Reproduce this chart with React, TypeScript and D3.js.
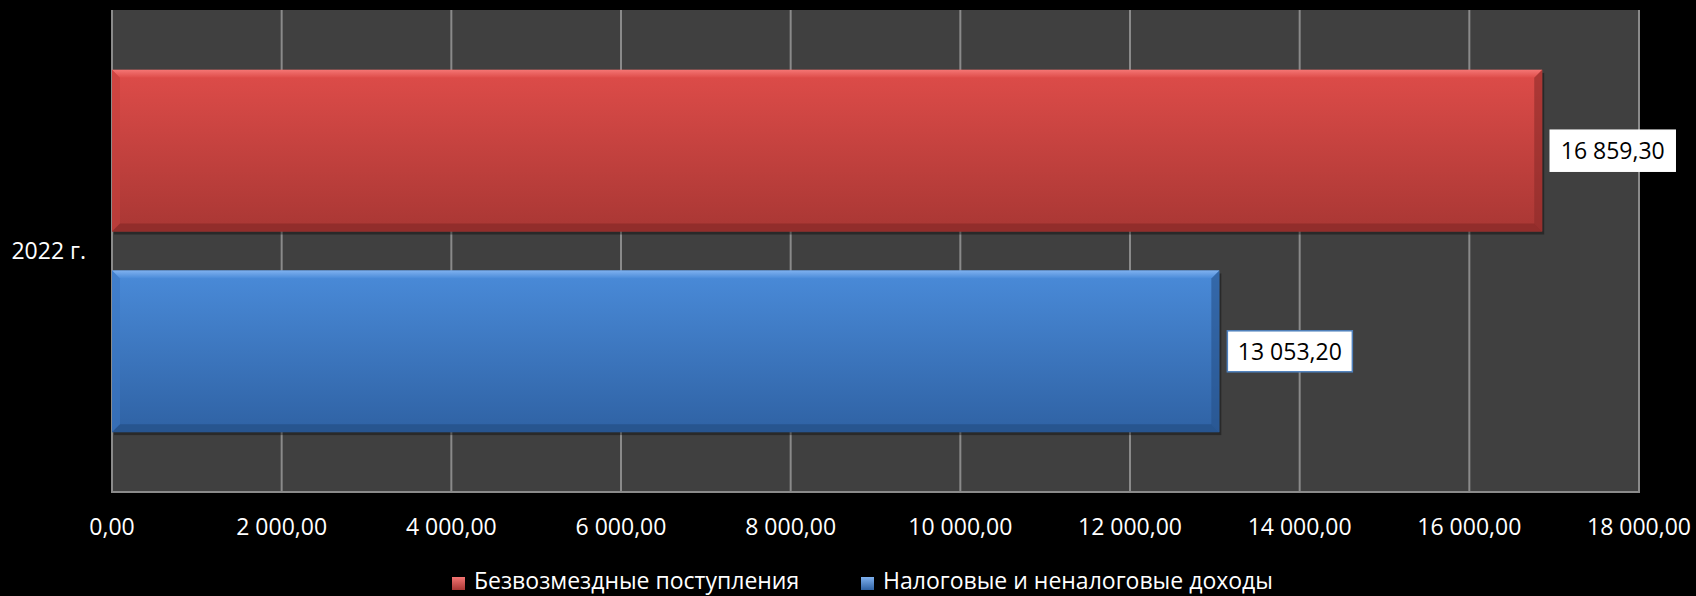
import React from "react";
import * as d3 from "d3";

const categories = ["2022 г."];
const seriesNames = ["Безвозмездные поступления", "Налоговые и неналоговые доходы"];
const grantsValues = [16859.3];
const taxValues = [13053.2];
const tickValues = [0, 2000, 4000, 6000, 8000, 10000, 12000, 14000, 16000, 18000];

const W = 1696;
const H = 596;
const plot = { left: 112, right: 1639, top: 10, bottom: 492 };
const FONT = "'Open Sans', 'DejaVu Sans', sans-serif";
const FS = 23;

const locale = d3.formatLocale({ decimal: ",", thousands: "\u00a0", grouping: [3], currency: ["", ""] });
const fmt = locale.format(",.2f");

const palette = [
  { top: "#de4c49", bottom: "#a93734", hi: "#f47573", lo: "#8c2b29", side: "#c5403d", border: "#ffffff" },
  { top: "#4a8bd9", bottom: "#2f62a4", hi: "#7fb1ef", lo: "#26518a", side: "#3a76c2", border: "#4f81bd" },
];

function Bar({ x0, x1, y0, y1, i }: { x0: number; x1: number; y0: number; y1: number; i: number }) {
  const c = palette[i];
  const b = 8;
  return (
    <g>
      <rect x={x0 + 2} y={y0 + 3} width={x1 - x0} height={y1 - y0} fill="#000" opacity={0.35} />
      <rect x={x0} y={y0} width={x1 - x0} height={y1 - y0} fill={`url(#grad${i})`} />
      <polygon points={`${x0},${y0} ${x1},${y0} ${x1 - b},${y0 + b} ${x0 + b},${y0 + b}`} fill={`url(#hi${i})`} />
      <polygon points={`${x0},${y0} ${x0 + b},${y0 + b} ${x0 + b},${y1 - b} ${x0},${y1}`} fill={c.side} opacity={0.55} />
      <polygon points={`${x1},${y0} ${x1},${y1} ${x1 - b},${y1 - b} ${x1 - b},${y0 + b}`} fill={c.lo} opacity={0.6} />
      <polygon points={`${x0},${y1} ${x1},${y1} ${x1 - b},${y1 - b} ${x0 + b},${y1 - b}`} fill={c.lo} opacity={0.8} />
    </g>
  );
}

export default function App() {
  const x = d3.scaleLinear().domain([0, 18000]).range([plot.left, plot.right]);
  const yCat = d3.scaleBand<string>().domain(categories).range([plot.top, plot.bottom]);
  const ySer = d3
    .scaleBand<string>()
    .domain(seriesNames)
    .range([0, yCat.bandwidth()])
    .paddingInner(0.194)
    .paddingOuter(0.2985);
  const seriesData = [grantsValues, taxValues];

  return (
    <svg width={W} height={H} style={{ position: "absolute", left: 0, top: 0 }} fontFamily={FONT}>
      <defs>
        {palette.map((c, i) => (
          <g key={i}>
            <linearGradient id={`grad${i}`} x1="0" y1="0" x2="0" y2="1">
              <stop offset="0" stopColor={c.top} />
              <stop offset="1" stopColor={c.bottom} />
            </linearGradient>
            <linearGradient id={`hi${i}`} x1="0" y1="0" x2="0" y2="1">
              <stop offset="0" stopColor={c.hi} />
              <stop offset="1" stopColor={c.top} />
            </linearGradient>
            <linearGradient id={`leg${i}`} x1="0" y1="0" x2="0" y2="1">
              <stop offset="0" stopColor={c.hi} />
              <stop offset="1" stopColor={c.bottom} />
            </linearGradient>
          </g>
        ))}
      </defs>
      <rect x={0} y={0} width={W} height={H} fill="#000" />
      <rect x={plot.left} y={plot.top} width={plot.right - plot.left} height={plot.bottom - plot.top} fill="#404040" />
      {tickValues.slice(1, -1).map((t) => (
        <line key={t} x1={x(t)} x2={x(t)} y1={plot.top} y2={plot.bottom} stroke="#8a8a8a" strokeWidth={2} />
      ))}
      <line x1={plot.right} x2={plot.right} y1={plot.top} y2={plot.bottom} stroke="#8a8a8a" strokeWidth={2} />
      <line x1={plot.left} x2={plot.right + 1} y1={plot.bottom} y2={plot.bottom} stroke="#8a8a8a" strokeWidth={2} />
      <line x1={plot.left} x2={plot.left} y1={plot.top} y2={plot.bottom + 1} stroke="#8a8a8a" strokeWidth={2} />

      {categories.map((cat, ci) =>
        seriesNames.map((s, si) => {
          const v = seriesData[si][ci];
          const y0 = (yCat(cat) ?? 0) + (ySer(s) ?? 0);
          const y1 = y0 + ySer.bandwidth();
          const x0 = x(0);
          const x1 = x(v);
          const cy = (y0 + y1) / 2;
          const label = fmt(v);
          const bw = 125;
          const bh = 41;
          return (
            <g key={s}>
              <Bar x0={x0} x1={x1} y0={y0} y1={y1} i={si} />
              <rect
                x={x1 + 8}
                y={cy - bh / 2}
                width={bw}
                height={bh}
                fill="#fff"
                stroke={palette[si].border}
                strokeWidth={1.5}
              />
              <text x={x1 + 8 + bw / 2} y={cy + 8.5} textAnchor="middle" fontSize={FS} fill="#000">
                {label}
              </text>
            </g>
          );
        })
      )}

      {categories.map((cat) => (
        <text
          key={cat}
          x={86}
          y={(yCat(cat) ?? 0) + yCat.bandwidth() / 2 + 8}
          textAnchor="end"
          fontSize={FS}
          fill="#fff"
        >
          {cat}
        </text>
      ))}

      {tickValues.map((t) => (
        <text key={t} x={x(t)} y={535} textAnchor="middle" fontSize={FS} fill="#fff">
          {fmt(t)}
        </text>
      ))}

      {seriesNames.map((s, i) => {
        const lx = [452, 861][i];
        return (
          <g key={s}>
            <rect x={lx} y={577} width={13} height={13} fill={`url(#leg${i})`} />
            <text x={lx + 22} y={589} fontSize={FS} fill="#fff">
              {s}
            </text>
          </g>
        );
      })}
    </svg>
  );
}
